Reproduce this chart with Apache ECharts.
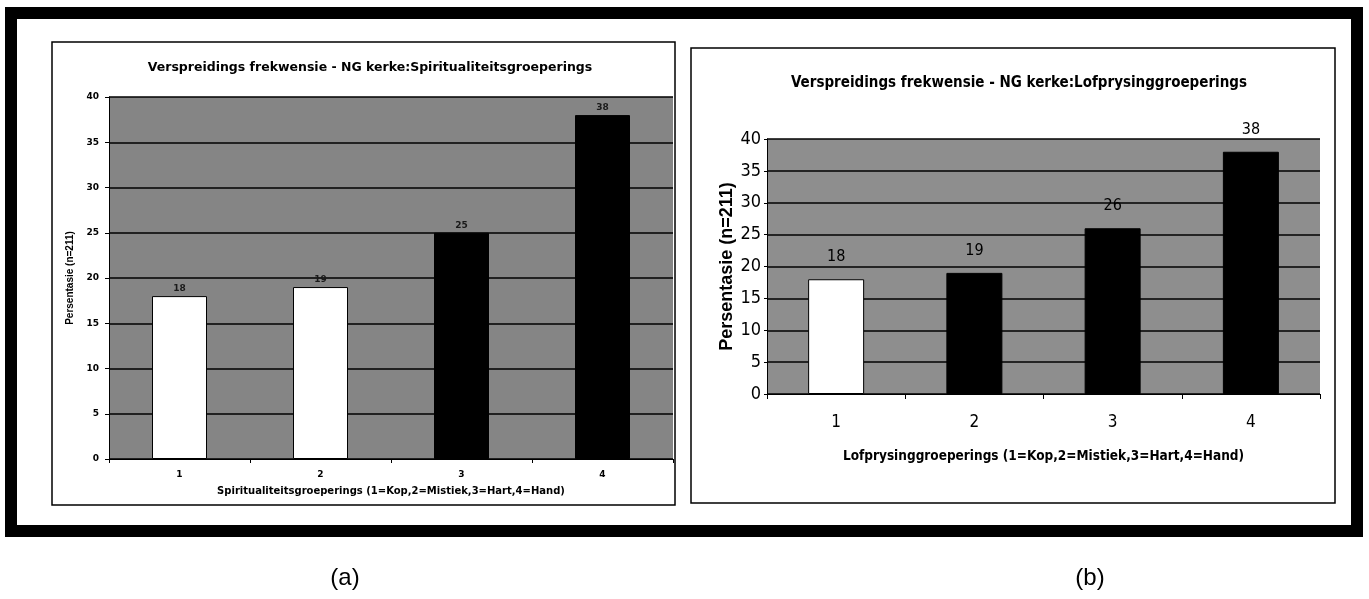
<!DOCTYPE html>
<html>
<head>
<meta charset="utf-8">
<script src="https://cdn.jsdelivr.net/npm/echarts@6/dist/echarts.min.js"></script>
<style>
html, body { margin: 0; padding: 0; background: #fff; }
#chart { width: 1369px; height: 599px; }
</style>
</head>
<body>
<div id="chart"></div>
<script>
// data
var categories = ['1', '2', '3', '4'];
var spiritValues = [18, 19, 25, 38];
var lofValues = [18, 19, 26, 38];

var titleA = 'Verspreidings frekwensie - NG kerke:Spiritualiteitsgroeperings';
var titleB = 'Verspreidings frekwensie - NG kerke:Lofprysinggroeperings';
var xNameA = 'Spiritualiteitsgroeperings (1=Kop,2=Mistiek,3=Hart,4=Hand)';
var xNameB = 'Lofprysinggroeperings (1=Kop,2=Mistiek,3=Hart,4=Hand)';
var yName = 'Persentasie (n=211)';

// bar fills (styles, kept apart from values)
var spiritColors = ['#ffffff', '#ffffff', '#000000', '#000000'];
var lofColors = ['#ffffff', '#000000', '#000000', '#000000'];

var narrow = "'Liberation Sans Narrow', 'DejaVu Sans Condensed', Arial, sans-serif";
var wide = "'DejaVu Sans', Arial, sans-serif";

function bars(values, colors) {
    return values.map(function (v, i) {
        return { value: v, itemStyle: { color: colors[i], borderColor: '#000', borderWidth: 1 } };
    });
}

var dom = document.getElementById('chart');
var myChart = echarts.init(dom);

var option = {
    animation: false,
    backgroundColor: '#ffffff',
    title: [
        {
            text: titleA, left: 365, top: 56, textAlign: 'center',
            textStyle: { fontSize: 12.5, fontWeight: 'bold', fontFamily: wide, color: '#000' }
        },
        {
            text: titleB, left: 1014, top: 71, textAlign: 'center',
            textStyle: { fontSize: 15, fontWeight: 'bold', fontFamily: narrow, color: '#000' }
        }
    ],
    grid: [
        { left: 109, top: 97, width: 564, height: 362, show: true, backgroundColor: '#858585', borderWidth: 0 },
        { left: 767, top: 139, width: 553, height: 255, show: true, backgroundColor: '#8e8e8e', borderWidth: 0 }
    ],
    xAxis: [
        {
            gridIndex: 0, type: 'category', data: categories,
            name: xNameA, nameLocation: 'middle', nameGap: 27,
            nameTextStyle: { fontSize: 10, fontWeight: 'bold', fontFamily: wide, color: '#000' },
            axisLine: { lineStyle: { color: '#000', width: 1 } },
            axisTick: { show: true, length: 4, lineStyle: { color: '#000' } },
            axisLabel: { fontSize: 9, fontWeight: 'bold', fontFamily: wide, color: '#000', margin: 11 }
        },
        {
            gridIndex: 1, type: 'category', data: categories,
            name: xNameB, nameLocation: 'middle', nameGap: 55,
            nameTextStyle: { fontSize: 13.5, fontWeight: 'bold', fontFamily: narrow, color: '#000' },
            axisLine: { lineStyle: { color: '#000', width: 1 } },
            axisTick: { show: true, length: 5, lineStyle: { color: '#000' } },
            axisLabel: { fontSize: 17, fontFamily: narrow, color: '#000', margin: 20 }
        }
    ],
    yAxis: [
        {
            gridIndex: 0, type: 'value', min: 0, max: 40, interval: 5,
            name: yName, nameLocation: 'middle', nameGap: 34,
            nameTextStyle: { fontSize: 10, fontWeight: 'bold', fontFamily: 'Arial, sans-serif', color: '#000' },
            axisLine: { show: true, lineStyle: { color: '#000', width: 1 } },
            axisTick: { show: true, length: 4, lineStyle: { color: '#000' } },
            axisLabel: { fontSize: 9, fontWeight: 'bold', fontFamily: wide, color: '#000', margin: 10 },
            splitLine: { show: true, lineStyle: { color: '#000', width: 1.5 } }
        },
        {
            gridIndex: 1, type: 'value', min: 0, max: 40, interval: 5,
            name: yName, nameLocation: 'middle', nameGap: 28,
            nameTextStyle: { fontSize: 18, fontWeight: 'bold', fontFamily: 'Arial, sans-serif', color: '#000' },
            axisLine: { show: true, lineStyle: { color: '#000', width: 1 } },
            axisTick: { show: true, length: 3, lineStyle: { color: '#000' } },
            axisLabel: { fontSize: 18, fontFamily: narrow, color: '#000', margin: 6 },
            splitLine: { show: true, lineStyle: { color: '#000', width: 1.5 } }
        }
    ],
    series: [
        {
            type: 'bar', xAxisIndex: 0, yAxisIndex: 0, barWidth: 55,
            data: bars(spiritValues, spiritColors),
            label: { show: true, position: 'top', distance: 3, fontSize: 9, fontWeight: 'bold', fontFamily: wide, color: '#1a1a1a' }
        },
        {
            type: 'bar', xAxisIndex: 1, yAxisIndex: 1, barWidth: 56,
            data: bars(lofValues, lofColors),
            label: { show: true, position: 'top', distance: 14, fontSize: 16, fontFamily: narrow, color: '#000' }
        }
    ],
    graphic: [
        { type: 'rect', shape: { x: 11, y: 13, width: 1346, height: 518 }, style: { fill: 'none', stroke: '#000', lineWidth: 12 } },
        { type: 'rect', shape: { x: 52, y: 42, width: 623, height: 463 }, style: { fill: 'none', stroke: '#000', lineWidth: 1.5 } },
        { type: 'rect', shape: { x: 691, y: 48, width: 644, height: 455 }, style: { fill: 'none', stroke: '#000', lineWidth: 1.5 } },
        { type: 'text', x: 345, y: 578, style: { text: '(a)', fontSize: 24, fontFamily: 'Arial, sans-serif', fill: '#000', align: 'center', verticalAlign: 'middle' } },
        { type: 'text', x: 1090, y: 578, style: { text: '(b)', fontSize: 24, fontFamily: 'Arial, sans-serif', fill: '#000', align: 'center', verticalAlign: 'middle' } }
    ]
};

if (option && typeof option === "object") {
    myChart.setOption(option, true);
}
</script>
</body>
</html>
